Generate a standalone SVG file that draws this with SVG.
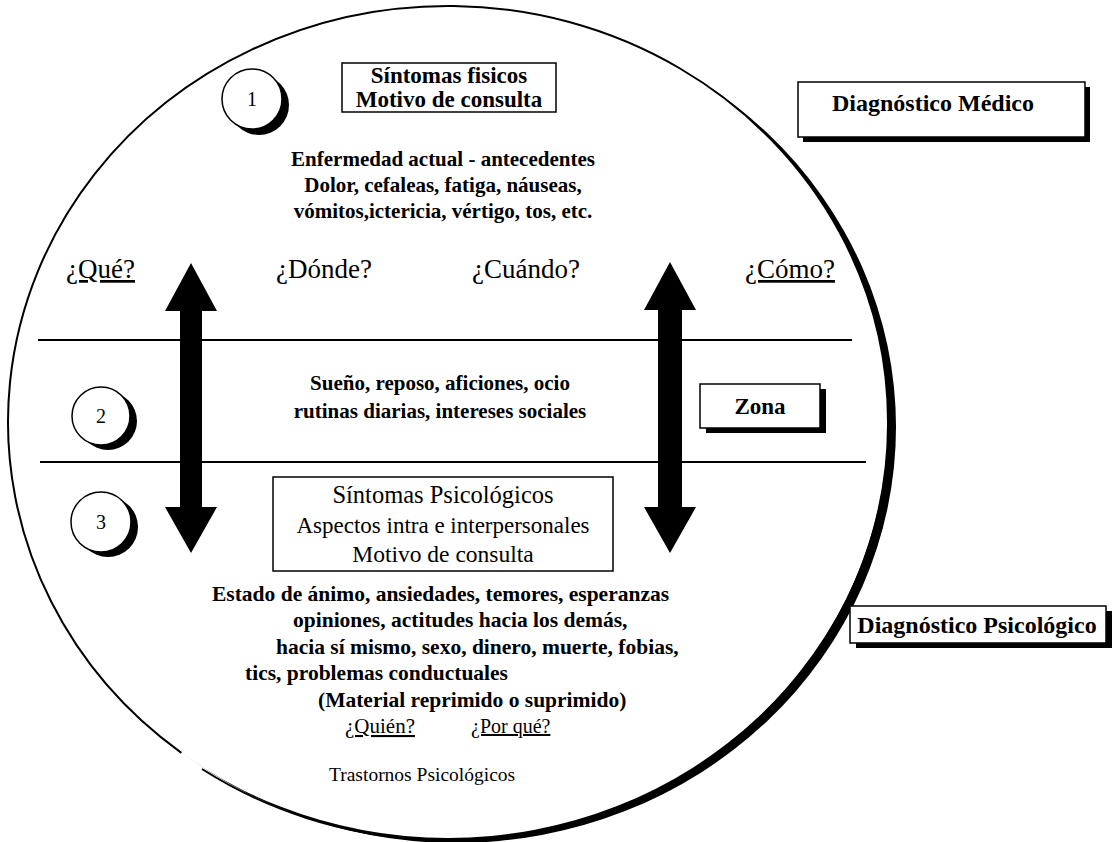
<svg xmlns="http://www.w3.org/2000/svg" width="1120" height="842" viewBox="0 0 1120 842">
<style>
 text{font-family:"Liberation Serif","Times New Roman",serif;fill:#000}
 .b{font-weight:bold}
 .c{text-anchor:middle}
 .u{text-decoration:underline}
 .box{fill:#fff;stroke:#000;stroke-width:1.5}
 .sh{fill:#000}
 .ln{stroke:#000;stroke-width:2;fill:none}
 .arr{fill:#000}
 .q{font-size:27px}
</style>
<rect width="1120" height="842" fill="#fff"/>
<g id="outer-circle">
 <ellipse cx="456" cy="427" rx="440" ry="416" fill="#000"/>
 <ellipse cx="448" cy="422" rx="440" ry="416" fill="#fff"/>
 <path d="M202 769 A440 416 0 0 0 888 422 A440 416 0 1 0 181.4 752.9" class="ln"/>
</g>
<g id="connectors">
 <line x1="38" y1="340" x2="852" y2="340" class="ln"/>
 <line x1="40" y1="462" x2="866" y2="462" class="ln"/>
 <path class="arr" d="M191 263 L217 311 L202 311 L202 507 L217 507 L191 553 L165 507 L180 507 L180 311 L165 311 Z"/>
 <path class="arr" d="M670 262 L696 310 L682 310 L682 507 L696 507 L670 553 L644 507 L658 507 L658 310 L644 310 Z"/>
</g>
<g id="n1">
 <circle cx="259" cy="105" r="30" class="sh"/>
 <circle cx="252" cy="99" r="30" class="box"/>
 <text x="252" y="106" class="c" font-size="20">1</text>
</g>
<g id="n2">
 <circle cx="108" cy="421" r="29" class="sh"/>
 <circle cx="101" cy="416" r="29" class="box"/>
 <text x="101" y="423" class="c" font-size="20">2</text>
</g>
<g id="n3">
 <circle cx="108" cy="527" r="30" class="sh"/>
 <circle cx="101" cy="522" r="30" class="box"/>
 <text x="101" y="529" class="c" font-size="20">3</text>
</g>
<g id="sintomas-fisicos">
 <rect x="342" y="63" width="214" height="49" class="box"/>
 <text x="449" y="83" class="c b" font-size="23">Síntomas fisicos</text>
 <text x="449" y="107" class="c b" font-size="23">Motivo de consulta</text>
</g>
<g id="diagnostico-medico">
 <rect x="803" y="87" width="287" height="55" class="sh"/>
 <rect x="798" y="82" width="287" height="55" class="box"/>
 <text x="933" y="111" class="c b" font-size="24">Diagnóstico Médico</text>
</g>
<g id="enfermedad">
 <text x="443" y="166" class="c b" font-size="21">Enfermedad actual - antecedentes</text>
 <text x="443" y="192" class="c b" font-size="21">Dolor, cefaleas, fatiga, náuseas,</text>
 <text x="443" y="218" class="c b" font-size="21">vómitos,ictericia, vértigo, tos, etc.</text>
</g>
<g id="preguntas">
 <text x="66" y="278" class="q u">¿Qué?</text>
 <text x="276" y="278" class="q">¿Dónde?</text>
 <text x="472" y="278" class="q">¿Cuándo?</text>
 <text x="745" y="278" class="q u">¿Cómo?</text>
</g>
<g id="zona2-texto">
 <text x="440" y="390" class="c b" font-size="21">Sueño, reposo, aficiones, ocio</text>
 <text x="440" y="418" class="c b" font-size="21">rutinas diarias, intereses sociales</text>
</g>
<g id="zona">
 <rect x="706" y="389" width="120" height="44" class="sh"/>
 <rect x="700" y="384" width="120" height="44" class="box"/>
 <text x="760" y="414" class="c b" font-size="23">Zona</text>
</g>
<g id="sintomas-psicologicos">
 <rect x="273" y="477" width="340" height="94" class="box"/>
 <text x="443" y="503" class="c" font-size="24.5">Síntomas Psicológicos</text>
 <text x="443" y="533" class="c" font-size="23">Aspectos intra e interpersonales</text>
 <text x="443" y="562" class="c" font-size="23.5">Motivo de consulta</text>
</g>
<g id="estado">
 <text x="212" y="601" class="b" font-size="21.5">Estado de ánimo, ansiedades, temores, esperanzas</text>
 <text x="293" y="627" class="b" font-size="21.5">opiniones, actitudes hacia los demás,</text>
 <text x="276" y="654" class="b" font-size="21.5">hacia sí mismo, sexo, dinero, muerte, fobias,</text>
 <text x="245" y="680" class="b" font-size="21.5">tics, problemas conductuales</text>
 <text x="318" y="707" class="b" font-size="21.5">(Material reprimido o suprimido)</text>
 <text x="345" y="733" class="u" font-size="21">¿Quién?</text>
 <text x="471" y="733" class="u" font-size="20">¿Por qué?</text>
 <text x="329" y="781" font-size="19.5">Trastornos Psicológicos</text>
</g>
<g id="diagnostico-psicologico">
 <rect x="856" y="611" width="256" height="37" class="sh"/>
 <rect x="850" y="606" width="256" height="37" class="box"/>
 <text x="977" y="633" class="c b" font-size="24">Diagnóstico Psicológico</text>
</g>
</svg>
